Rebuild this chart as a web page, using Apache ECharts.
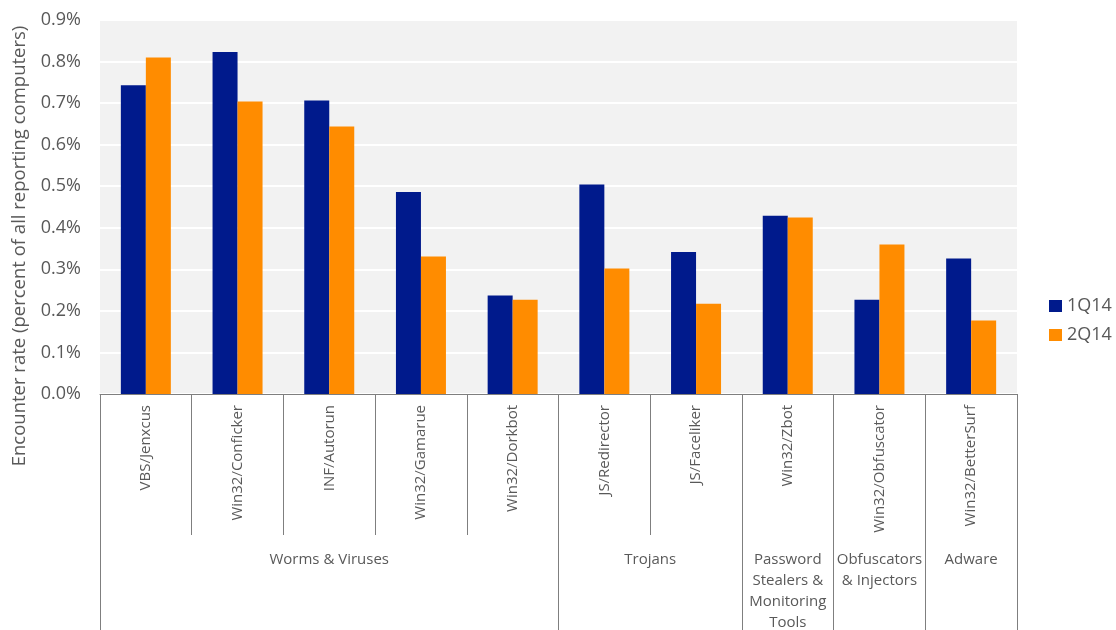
<!DOCTYPE html>
<html>
<head>
<meta charset="utf-8">
<script src="https://cdn.jsdelivr.net/npm/echarts@6/dist/echarts.min.js"></script>
<style>
  html, body { margin: 0; padding: 0; background: #fff; }
  #chart { width: 1116px; height: 630px; }
</style>
</head>
<body>
<div id="chart"></div>
<script>
const categories = ['VBS/Jenxcus', 'Win32/Conficker', 'INF/Autorun', 'Win32/Gamarue', 'Win32/Dorkbot',
  'JS/Redirector', 'JS/Faceliker', 'Win32/Zbot', 'Win32/Obfuscator', 'Win32/BetterSurf'];
const q1 = [0.743, 0.823, 0.706, 0.486, 0.237, 0.504, 0.342, 0.429, 0.227, 0.326];
const q2 = [0.810, 0.704, 0.644, 0.331, 0.227, 0.302, 0.217, 0.425, 0.360, 0.177];
const groups = ['Worms & Viruses', 'Trojans', 'Password\nStealers &\nMonitoring\nTools', 'Obfuscators\n& Injectors', 'Adware'];
const groupSizes = [5, 2, 1, 1, 1];

// group boundaries and centres in category units
const groupEdges = [0];
groupSizes.forEach(s => groupEdges.push(groupEdges[groupEdges.length - 1] + s));
const groupCenters = groupSizes.map((s, i) => groupEdges[i] + s / 2);

const font = '"Open Sans", "Noto Sans", sans-serif';
const textColor = '#595959';
const lineColor = '#7f7f7f';

const chart = echarts.init(document.getElementById('chart'));

const option = {
  animation: false,
  textStyle: { fontFamily: font },
  grid: {
    left: 100,
    right: 99,
    top: 20,
    bottom: 236,
    outerBoundsMode: 'none',
    containLabel: false,
    show: true,
    backgroundColor: '#f2f2f2',
    borderWidth: 0,
  },
  legend: {
    orient: 'vertical',
    left: 1049,
    top: 297,
    padding: 0,
    itemWidth: 13,
    itemHeight: 12,
    itemGap: 11,
    icon: 'rect',
    textStyle: { fontSize: 18, color: textColor, fontFamily: font },
    data: ['1Q14', '2Q14'],
  },
  graphic: [
    {
      type: 'text',
      x: 20,
      y: 246,
      rotation: Math.PI / 2,
      style: {
        text: 'Encounter rate (percent of all reporting computers)',
        fontSize: 18.5,
        fontFamily: font,
        fill: textColor,
        align: 'center',
        verticalAlign: 'middle',
      },
    },
  ],
  xAxis: [
    {
      type: 'category',
      data: categories,
      position: 'bottom',
      axisLine: { show: true, lineStyle: { color: lineColor, width: 1 } },
      axisTick: { show: true, length: 141, lineStyle: { color: lineColor } },
      axisLabel: {
        rotate: 90,
        interval: 0,
        margin: 11,
        fontSize: 15,
        color: textColor,
        fontFamily: font,
      },
      splitLine: { show: false },
    },
    {
      type: 'value',
      min: 0,
      max: categories.length,
      position: 'bottom',
      axisLine: { show: false },
      splitLine: { show: false },
      axisTick: {
        show: true,
        length: 236,
        customValues: groupEdges,
        lineStyle: { color: lineColor },
      },
      axisLabel: {
        show: true,
        customValues: groupCenters,
        margin: 155,
        fontSize: 15,
        lineHeight: 21,
        color: textColor,
        fontFamily: font,
        verticalAlign: 'top',
        formatter: (v) => {
          const i = groupCenters.indexOf(v);
          return i >= 0 ? groups[i] : '';
        },
      },
    },
  ],
  yAxis: {
    type: 'value',
    min: 0,
    max: 0.9,
    interval: 0.1,
    axisLine: { show: false },
    axisTick: { show: false },
    axisLabel: {
      margin: 19,
      fontSize: 18,
      color: textColor,
      fontFamily: font,
      formatter: (v) => v.toFixed(1) + '%',
    },
    splitLine: { show: true, lineStyle: { color: '#ffffff', width: 2 } },
  },
  series: [
    {
      name: '1Q14',
      type: 'bar',
      data: q1,
      barWidth: 25,
      barGap: '0%',
      itemStyle: { color: '#001a8c' },
    },
    {
      name: '2Q14',
      type: 'bar',
      data: q2,
      barWidth: 25,
      barGap: '0%',
      itemStyle: { color: '#ff8c00' },
    },
  ],
};

chart.setOption(option);
window.addEventListener('resize', () => chart.resize());
</script>
</body>
</html>
